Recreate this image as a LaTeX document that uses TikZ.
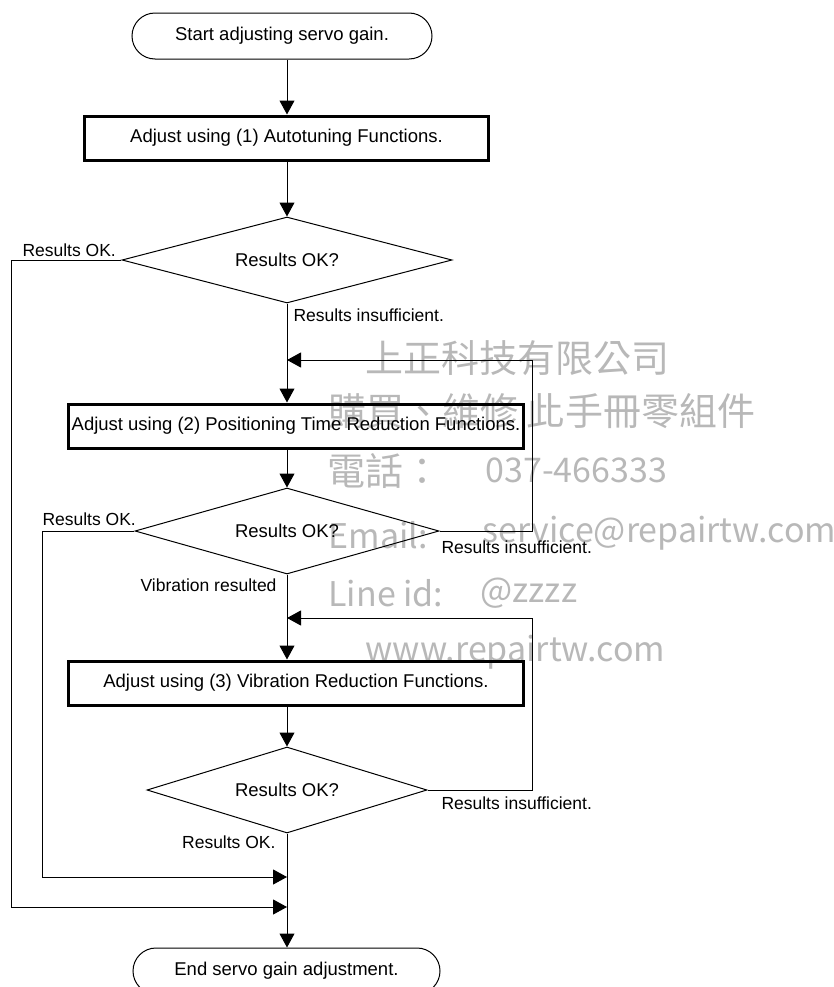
\documentclass[tikz,border=0pt]{standalone}
\usepackage{fontspec}
\setmainfont{Liberation Sans}
\newfontfamily\cjk{Noto Sans CJK TC}
\usetikzlibrary{shapes.geometric,shapes.misc,arrows.meta}
\tikzset{every picture/.style={line width=1bp}}
\newcommand{\mainsize}{\fontsize{18.5bp}{22bp}\selectfont}
\newcommand{\labsize}{\fontsize{17.5bp}{21bp}\selectfont}

\begin{document}
\begin{tikzpicture}[x=1bp, y=-1bp, >={Triangle[length=14bp,width=15bp]},
	term/.style={draw, rounded rectangle, minimum width=300bp, minimum height=46bp, inner sep=0pt, font=\mainsize},
	proc/.style={draw, line width=3bp, minimum height=44bp, inner sep=0pt, font=\mainsize},
	dec/.style={draw, diamond, aspect=3.6, inner sep=0pt, minimum height=86bp, font=\mainsize},
	lab/.style={inner sep=0pt, font=\labsize},
	wm/.style={inner sep=0pt, anchor=west, text=black!28, font=\cjk\fontsize{38bp}{40bp}\selectfont},
	wmlat/.style={wm, font=\cjk\fontsize{34bp}{36bp}\selectfont}]
	\useasboundingbox (0,0) rectangle (834,987);
	% watermark, behind everything
	\node[wm] (wmco) at (365,358) {上正科技有限公司};
	\node[wm] (wmbuy) at (328,411) {購買、維修 此手冊零組件};
	\node[wm] (wmtel) at (327,471) {電話：};
	\node[wmlat] (wmnum) at (485,470) {037-466333};
	\node[wmlat] (wmmail) at (328,535) {Email:};
	\node[wmlat] (wmaddr) at (482,533) {service@repairtw.com};
	\node[wmlat] (wmline) at (328,593) {Line id:};
	\node[wmlat] (wmid) at (480,593) {@zzzz};
	\node[wmlat] (wmweb) at (365,652) {www.repairtw.com};
	% flow
	\node[term] (start) at (282,36) {Start adjusting servo gain.};
	\node[proc, minimum width=404bp] (box1) at (286.5,138) {Adjust using (1) Autotuning Functions.};
	\node[dec, minimum width=330bp] (dec1) at (287,260) {Results OK?};
	\node[proc, minimum width=455bp] (box2) at (296,426) {Adjust using (2) Positioning Time Reduction Functions.};
	\node[dec, minimum width=304bp] (dec2) at (287,531) {Results OK?};
	\node[proc, minimum width=455bp] (box3) at (296,683) {Adjust using (3) Vibration Reduction Functions.};
	\node[dec, minimum width=280bp] (dec3) at (287,790) {Results OK?};
	\node[term, minimum width=307bp] (stop) at (286.5,971) {End servo gain adjustment.};
	\coordinate (back1) at (532,360);
	\coordinate (back2) at (532,618);
	\coordinate (ok1) at (11,907);
	\coordinate (ok2) at (42,877);
	\draw[->] (start.south -| dec1) -- (box1.north -| dec1);
	\draw[->] (box1.south -| dec1) -- (dec1.north);
	\draw[->] (dec1.south) -- (box2.north -| dec1);
	\draw[->] (box2.south -| dec2) -- (dec2.north);
	\draw[->] (dec2.south) -- (box3.north -| dec2);
	\draw[->] (box3.south -| dec3) -- (dec3.north);
	\draw[->] (dec3.south) -- (stop.north -| dec3);
	\draw[->] (dec2.east) -| (back1) -- (back1 -| dec1);
	\draw[->] (dec3.east) -| (back2) -- (back2 -| dec2);
	\draw[->] (dec1.west) -| (ok1) -- (ok1 -| dec3);
	\draw[->] (dec2.west) -| (ok2) -- (ok2 -| dec3);
	% branch labels
	\node[lab, anchor=west] (ok1lab) at (22,250) {Results OK.};
	\node[lab, anchor=west] (no1lab) at (293,315) {Results insufficient.};
	\node[lab, anchor=west] (ok2lab) at (42,519) {Results OK.};
	\node[lab, anchor=west] (no2lab) at (441,547) {Results insufficient.};
	\node[lab, anchor=east] (viblab) at (277,585) {Vibration resulted};
	\node[lab, anchor=west] (no3lab) at (441,803) {Results insufficient.};
	\node[lab, anchor=east] (ok3lab) at (276,842) {Results OK.};
\end{tikzpicture}
\end{document}
